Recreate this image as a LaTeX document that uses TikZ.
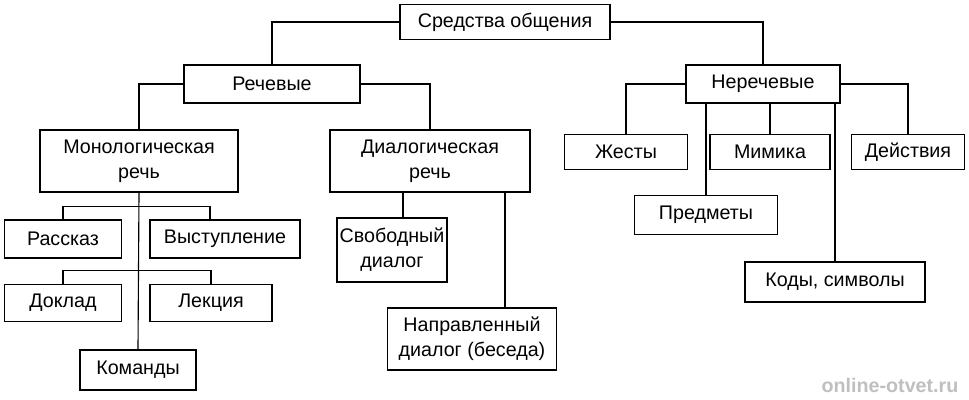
\documentclass[tikz,border=0pt]{standalone}
\usepackage{fontspec}
\setmainfont{Liberation Sans}
\tikzset{
  px/.style={x=0.025cm,y=-0.025cm},
  box/.style={draw,thick,align=center,inner sep=0pt,font=\fontsize{14}{18}\selectfont},
  link/.style={thick}
}
\begin{document}
\begin{tikzpicture}[px]
   \useasboundingbox (0,0) rectangle (969,400);
   % top levels
   \node[box,minimum width=210*0.025cm,minimum height=35*0.025cm] (srd) at (505,22) {Средства общения};
   \node[box,minimum width=176*0.025cm,minimum height=38*0.025cm] (rech) at (272,84) {Речевые};
   \node[box,minimum width=154*0.025cm,minimum height=38*0.025cm] (nrch) at (763,84) {Неречевые};
   \node[box,minimum width=198*0.025cm,minimum height=62*0.025cm] (mono) at (139,161) {Монологическая\\речь};
   \node[box,minimum width=200*0.025cm,minimum height=62*0.025cm] (dial) at (430,161) {Диалогическая\\речь};
   % non-verbal
   \node[box,minimum width=123*0.025cm,minimum height=35*0.025cm] (zhest) at (626,152) {Жесты};
   \node[box,minimum width=120*0.025cm,minimum height=35*0.025cm] (mim) at (770,152) {Мимика};
   \node[box,minimum width=113*0.025cm,minimum height=35*0.025cm] (deys) at (908,152) {Действия};
   \node[box,minimum width=143*0.025cm,minimum height=39*0.025cm] (pred) at (706,215) {Предметы};
   \node[box,minimum width=180*0.025cm,minimum height=40*0.025cm] (kod) at (835,282) {Коды, символы};
   % monologue
   \node[box,minimum width=117*0.025cm,minimum height=38*0.025cm] (rass) at (63,239) {Рассказ};
   \node[box,minimum width=150*0.025cm,minimum height=38*0.025cm] (vyst) at (225,239) {Выступление};
   \node[box,minimum width=117*0.025cm,minimum height=37*0.025cm] (dokl) at (63,303) {Доклад};
   \node[box,minimum width=122*0.025cm,minimum height=37*0.025cm] (lek) at (211,303) {Лекция};
   \node[box,minimum width=116*0.025cm,minimum height=40*0.025cm] (kom) at (138,370) {Команды};
   % dialogue
   \node[box,minimum width=110*0.025cm,minimum height=64*0.025cm] (svob) at (392,250) {Свободный\\диалог};
   \node[box,minimum width=169*0.025cm,minimum height=62*0.025cm] (napr) at (472,339) {Направленный\\диалог (беседа)};
   \node[text=black!25,font=\fontsize{14}{16}\selectfont\bfseries] (wm) at (890,385) {online-otvet.ru};

   \draw[link] (srd.west) -| (rech.north);
   \draw[link] (srd.east) -| (nrch.north);
   \draw[link] (rech.west) -| (mono.north);
   \draw[link] (rech.east) -| (dial.north);
   \draw[link] (nrch.west) -| (zhest.north);
   \draw[link] (nrch.east) -| (deys.north);
   \draw[link] (mim.north |- nrch.south) -- (mim.north);
   \draw[link] (pred.north |- nrch.south) -- (pred.north);
   \draw[link] (kod.north |- nrch.south) -- (kod.north);

   \draw[link] (mono.south) -- (kom.north);
   \draw[link] (rass.north) -- ++(0,-13) -| ([xshift=-15*0.025cm]vyst.north);
   \draw[link] (dokl.north) -- ++(0,-13) -| (lek.north);
   \draw[link] ([xshift=-27*0.025cm]dial.south) -- ([xshift=11*0.025cm]svob.north);
   \draw[link] ([xshift=75*0.025cm]dial.south) -- ([xshift=33*0.025cm]napr.north);
\end{tikzpicture}
\end{document}
